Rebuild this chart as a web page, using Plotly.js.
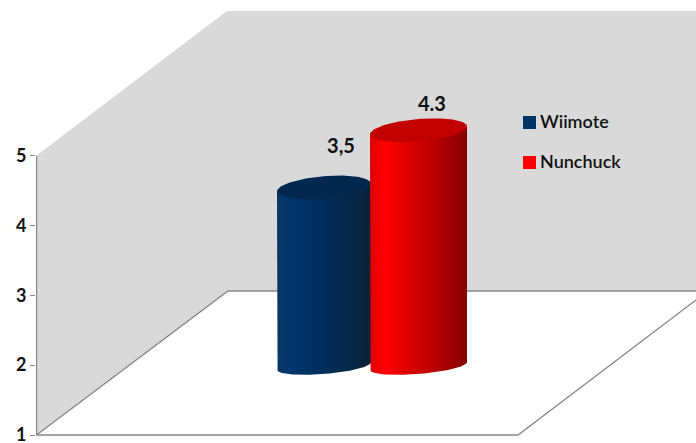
<!DOCTYPE html>
<html>
<head>
<meta charset="utf-8">
<script src="https://cdn.plot.ly/plotly-3.0.1.min.js"></script>
<style>html,body{margin:0;padding:0;background:#fff}</style>
</head>
<body>
<div id="chart" style="width:696px;height:443px"></div>
<script>
// Series
const seriesNames = ['Wiimote', 'Nunchuck'];
const seriesValues = [3.5, 4.3];
const valueLabels = ['3,5', '4.3'];
const tickValues = [1, 2, 3, 4, 5];
const tickLabels = ['1', '2', '3', '4', '5'];

// Colours
const swatchColors = ['#003366', '#ff0000'];
const capColors = ['#02284f', '#c20000'];
const sideGradients = [
  [[0, '#0b3563'], [0.12, '#00366c'], [0.5, '#002e5c'], [1, '#0c2139']],
  [[0, '#dc0000'], [0.14, '#ff0000'], [0.6, '#c40000'], [1, '#860000']]
];
const wallColor = '#d9d9d9';
const edgeColor = '#868686';
const font = 'Lato, "Open Sans", sans-serif';
const textColor = '#111111';

// Scene layout: x axis is in screen-like units, y axis is the value scale
const pxPerUnit = 69.875;
const axisBottomPx = 435;
const figW = 696, figH = 443, leftMargin = 36;
const yTop = 1 + axisBottomPx / pxPerUnit;
const yBottom = 1 - (figH - axisBottomPx) / pxPerUnit;
const up = px => px / pxPerUnit;
const floorBackV = 1 + up(144), wallTopV = 5 + up(144.5), floorRightEndV = 1 + up(135);

// Cylinder placement on the floor
const centersX = [324, 418.5];
const radiiX = [47, 48.5];
const floorV = 1 + up(69);
const heightScale = 1.022;
const capRy = 11.3, baseRy = 8, shear = 0.08;
const labelDx = [17, 13.5], labelDy = [39, 24];

function ellipseY(v, dx, ry, t) {
  return v + up(shear * dx) + up(ry * t);
}

function cylinderTraces(i) {
  const cx = centersX[i], rx = radiiX[i];
  const topV = floorV + (seriesValues[i] - 1) * heightScale;
  const sx = [], sy = [], cxs = [], cys = [];
  // Side wall: down the left edge, along the front of the base, up the right edge
  for (let k = 0; k <= 60; k++) {
    const a = Math.PI - Math.PI * k / 60;
    const dx = rx * Math.cos(a);
    sx.push(cx + dx);
    sy.push(ellipseY(floorV, dx, baseRy, -Math.sin(a)));
  }
  sx.unshift(cx - rx); sy.unshift(ellipseY(topV, -rx, capRy, 0));
  sx.push(cx + rx); sy.push(ellipseY(topV, rx, capRy, 0));
  // Top cap
  for (let k = 0; k <= 120; k++) {
    const a = 2 * Math.PI * k / 120;
    const dx = rx * Math.cos(a);
    cxs.push(cx + dx);
    cys.push(ellipseY(topV, dx, capRy, Math.sin(a)));
  }
  return [
    {x: sx, y: sy, mode: 'lines', fill: 'toself', line: {width: 0},
     fillgradient: {type: 'horizontal', colorscale: sideGradients[i]}, hoverinfo: 'skip', showlegend: false},
    {x: cxs, y: cys, mode: 'lines', fill: 'toself', fillcolor: capColors[i], line: {width: 0},
     hoverinfo: 'skip', showlegend: false},
    {x: [cx + labelDx[i]], y: [topV + up(labelDy[i])], mode: 'text', text: [valueLabels[i]],
     textposition: 'middle center',
     textfont: {family: font, size: 20, weight: 700, color: textColor}, hoverinfo: 'skip', showlegend: false}
  ];
}

const scene = [
  // Back and left walls
  {x: [36.5, 227, 696, 696, 228, 36.5, 36.5], y: [5, wallTopV, wallTopV, floorBackV, floorBackV, 1, 5],
   mode: 'lines', fill: 'toself', fillcolor: wallColor, line: {width: 0}, hoverinfo: 'skip', showlegend: false},
  // Floor edges
  {x: [36.5, 228, 696], y: [1, floorBackV, floorBackV], mode: 'lines',
   line: {color: edgeColor, width: 1.3}, hoverinfo: 'skip', showlegend: false},
  {x: [36.5, 518, 696], y: [1, 1, floorRightEndV], mode: 'lines',
   line: {color: edgeColor, width: 1.3}, hoverinfo: 'skip', showlegend: false},
  // Value axis line
  {x: [36.5, 36.5], y: [1, 5], mode: 'lines',
   line: {color: edgeColor, width: 1.3}, hoverinfo: 'skip', showlegend: false}
];

// Key, placed on the back wall
const keySwatchX = 529.5, keyTextX = 540;
const keyV = [1 + up(312.5), 1 + up(272.5)];
const key = [];
seriesNames.forEach((name, i) => {
  key.push({
    x: [keySwatchX], y: [keyV[i]], mode: 'markers',
    marker: {symbol: 'square', size: 13, color: swatchColors[i]},
    hoverinfo: 'skip', showlegend: false
  });
  key.push({
    x: [keyTextX], y: [keyV[i] - up(1)], mode: 'text', text: [name], textposition: 'middle right',
    textfont: {family: font, size: 18, weight: 600, color: textColor},
    hoverinfo: 'skip', showlegend: false
  });
});

const traces = scene
  .concat(cylinderTraces(0))
  .concat(cylinderTraces(1))
  .concat(key);

const layout = {
  width: figW, height: figH,
  margin: {l: leftMargin, r: 0, t: 0, b: 0, pad: 0},
  paper_bgcolor: '#fff', plot_bgcolor: '#fff',
  showlegend: false,
  xaxis: {range: [leftMargin, figW], visible: false, fixedrange: true},
  yaxis: {
    range: [yBottom, yTop], tickmode: 'array', tickvals: tickValues, ticktext: tickLabels,
    ticks: 'outside', ticklen: 5, tickwidth: 1, tickcolor: edgeColor,
    ticklabeloverflow: 'allow',
    showgrid: false, zeroline: false, showline: false, fixedrange: true,
    tickfont: {family: font, size: 18, weight: 700, color: textColor}
  }
};

Plotly.newPlot('chart', traces, layout, {staticPlot: true, displayModeBar: false});
</script>
</body>
</html>
